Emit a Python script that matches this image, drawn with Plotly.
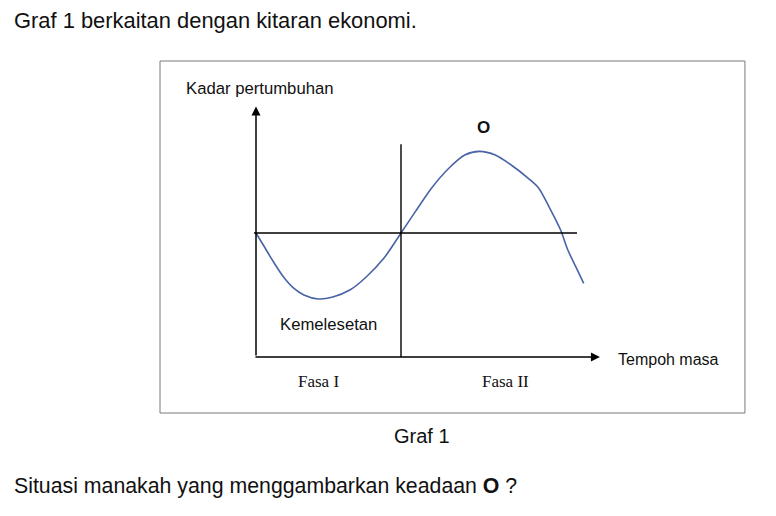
import plotly.graph_objects as go

# ---- data (time units: phase boundary at 10; growth-rate units: peak ~10) ----
curve_t = [0, 0.5, 1.2, 1.9, 2.6, 3.3, 4.3, 5.3, 6.5, 7.6, 8.8, 10.0,
           11.0, 12.1, 13.3, 14.4, 15.4, 16.5, 17.6, 18.8, 19.5, 20.2,
           21.0, 21.5, 22.1, 22.6]
curve_rate = [0, -1.5, -3.6, -5.5, -6.9, -7.75, -8.25, -8.0, -7.1, -5.5, -3.2, 0.0,
              2.7, 5.6, 8.1, 9.75, 10.2, 9.75, 8.5, 6.8, 5.6, 3.3,
              0.4, -2.1, -4.4, -6.3]
phase_labels = ["Fasa I", "Fasa II"]
phase_centers = [4.28, 17.24]
phase_boundary = 10.0

intro_text = "Graf 1 berkaitan dengan kitaran ekonomi."
caption_text = "Graf 1"
question_text = "Situasi manakah yang menggambarkan keadaan <b>O</b> ?"
y_title = "Kadar pertumbuhan"
x_title = "Tempoh masa"
trough_label = "Kemelesetan"
peak_label = "O"

W, H = 776, 516
SANS = "Liberation Sans, Arial, sans-serif"
SERIF = "Liberation Serif, Times New Roman, serif"
INK = "#111111"

fig = go.Figure()
fig.add_trace(go.Scatter(
    x=curve_t, y=curve_rate, mode="lines",
    line=dict(color="#4a62a6", width=1.6, shape="spline", smoothing=0.8),
    hoverinfo="skip", showlegend=False))

x_bottom = -15.5
# frame box
fig.add_shape(type="rect", x0=-6.62, x1=33.72, y0=-22.5, y1=21.5,
              line=dict(color="#7a7a7a", width=1), layer="below")
# baseline (zero growth)
fig.add_shape(type="line", x0=-0.14, x1=22.14, y0=0, y1=0,
              line=dict(color="black", width=1.4))
# phase divider
fig.add_shape(type="line", x0=phase_boundary, x1=phase_boundary, y0=x_bottom, y1=11.1,
              line=dict(color="black", width=1.4))
# y axis with arrow
fig.add_annotation(x=0, y=15.81, ax=0, ay=x_bottom, xref="x", yref="y",
                   axref="x", ayref="y", text="", showarrow=True,
                   arrowhead=2, arrowsize=1.2, arrowwidth=1.5, arrowcolor="black")
# x axis with arrow
fig.add_annotation(x=23.72, y=x_bottom, ax=-0.14, ay=x_bottom, xref="x", yref="y",
                   axref="x", ayref="y", text="", showarrow=True,
                   arrowhead=2, arrowsize=1.2, arrowwidth=1.5, arrowcolor="black")

def label(x, y, text, size, family=SANS, xanchor="center", bold=False):
    fig.add_annotation(x=x, y=y, xref="x", yref="y", text=f"<b>{text}</b>" if bold else text,
                       showarrow=False, xanchor=xanchor, yanchor="middle",
                       font=dict(family=family, size=size, color=INK))

label(-5.0, 18.06, y_title, 16.7, xanchor="left")
label(24.8, -15.75, x_title, 16, xanchor="left")
label(4.97, -11.4, trough_label, 16.7)
label(15.72, 13.25, peak_label, 17, bold=True)
for name, cx in zip(phase_labels, phase_centers):
    label(cx, -18.5, name, 17, family=SERIF)

def ptext(px, py, text, size, xanchor="left"):
    fig.add_annotation(x=px / W, y=1 - py / H, xref="paper", yref="paper", text=text,
                       showarrow=False, xanchor=xanchor, yanchor="middle",
                       font=dict(family=SANS, size=size, color=INK))

ptext(12, 21, intro_text, 21.9)
ptext(422, 436, caption_text, 20, xanchor="center")
ptext(12, 486, question_text, 21.3)

fig.update_layout(
    width=W, height=H, margin=dict(l=0, r=0, t=0, b=0),
    paper_bgcolor="white", plot_bgcolor="white", showlegend=False,
    xaxis=dict(range=[-256 / 14.5, 520 / 14.5], visible=False, fixedrange=True),
    yaxis=dict(range=[(233 - 516) / 8, 233 / 8], visible=False, fixedrange=True),
)
fig.write_html("out.html", config={"displayModeBar": False},
               post_script="document.body.style.margin='0';document.body.style.overflow='hidden';")
